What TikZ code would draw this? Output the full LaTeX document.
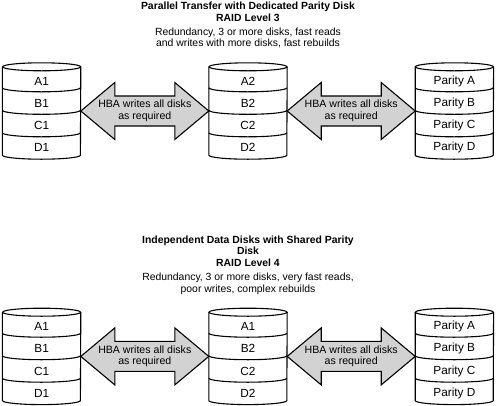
\documentclass[tikz,border=0pt]{standalone}
\usepackage{fontspec}
\setmainfont{Liberation Sans}
\usepackage{tikz}
\usetikzlibrary{positioning,calc}

\begin{document}
\begin{tikzpicture}[
  x=1pt, y=1pt,
  disk/.style={rectangle, minimum width=78pt, minimum height=88pt, inner sep=0pt},
  diskline/.style={draw=black, line width=1.1pt, fill=white},
  band/.style={font=\fontsize{11.8}{13}\selectfont, inner sep=0pt},
  hba/.style={draw=black, line width=1.1pt, fill=gray!35, line join=miter},
  hbatext/.style={align=center, font=\fontsize{10.6}{11.6}\selectfont, inner sep=0pt},
  heading/.style={align=center, font=\fontsize{10.4}{11.7}\selectfont,
                  inner sep=0pt, anchor=north}
]
  \useasboundingbox (0,0) rectangle (496,-405);

  % RAID 3
  \node[heading] (top-title) at (248,-2) {\textbf{Parallel Transfer with Dedicated Parity Disk}\\
    \textbf{RAID Level 3}\\[2pt]
    Redundancy, 3 or more disks, fast reads\\
    and writes with more disks, fast rebuilds};
  \node[disk] (t2) at (248,-111) {};
  \node[disk, left=128pt of t2] (t1) {};
  \node[disk, right=128pt of t2] (t3) {};

  % RAID 4
  \node[heading] (bot-title) at (248,-235.5) {\textbf{Independent Data Disks with Shared Parity}\\
    \textbf{Disk}\\
    \textbf{RAID Level 4}\\[2pt]
    Redundancy, 3 or more disks, very fast reads,\\
    poor writes, complex rebuilds};
  \node[disk, below=157pt of t2] (b2) {};
  \node[disk, left=128pt of b2] (b1) {};
  \node[disk, right=128pt of b2] (b3) {};

  % the disks
  \foreach \d/\la/\lb/\lc/\ld in {t1/A1/B1/C1/D1, t2/A2/B2/C2/D2,
      t3/Parity A/Parity B/Parity C/Parity D, b1/A1/B1/C1/D1, b2/A1/B2/C2/D2,
      b3/Parity A/Parity B/Parity C/Parity D}{
    \draw[diskline] (\d.north west) -- (\d.south west)
      arc[start angle=180, end angle=360, x radius=39, y radius=4] -- (\d.north east);
    \draw[diskline] (\d.north) ellipse[x radius=39, y radius=4];
    \foreach \s in {21,43.5,66}
      \draw[diskline, fill=none] ($(\d.north west)+(0,-\s)$)
        arc[start angle=180, end angle=360, x radius=39, y radius=4];
    \node[band] (\d-a) at ($(\d.north)+(0,-14.5)$) {\la};
    \node[band] (\d-b) at ($(\d.north)+(0,-36.5)$) {\lb};
    \node[band] (\d-c) at ($(\d.north)+(0,-58.8)$) {\lc};
    \node[band] (\d-d) at ($(\d.north)+(0,-81)$) {\ld};
  }

  % HBA arrows
  \foreach \l/\r/\n in {t1/t2/h1, t2/t3/h2, b1/b2/h3, b2/b3/h4}{
    \draw[hba] (\l.east) -- ++(34,28.5) -- ++(0,-13.5) -- ($(\r.west)+(-34,15)$)
      -- ++(0,13.5) -- (\r.west) -- ++(-34,-28.5) -- ++(0,13.5)
      -- ($(\l.east)+(34,-15)$) -- ++(0,-13.5) -- cycle;
    \node[hbatext] (\n) at ($(\l.east)!0.5!(\r.west)$) {HBA writes all disks\\as required};
  }
\end{tikzpicture}
\end{document}
